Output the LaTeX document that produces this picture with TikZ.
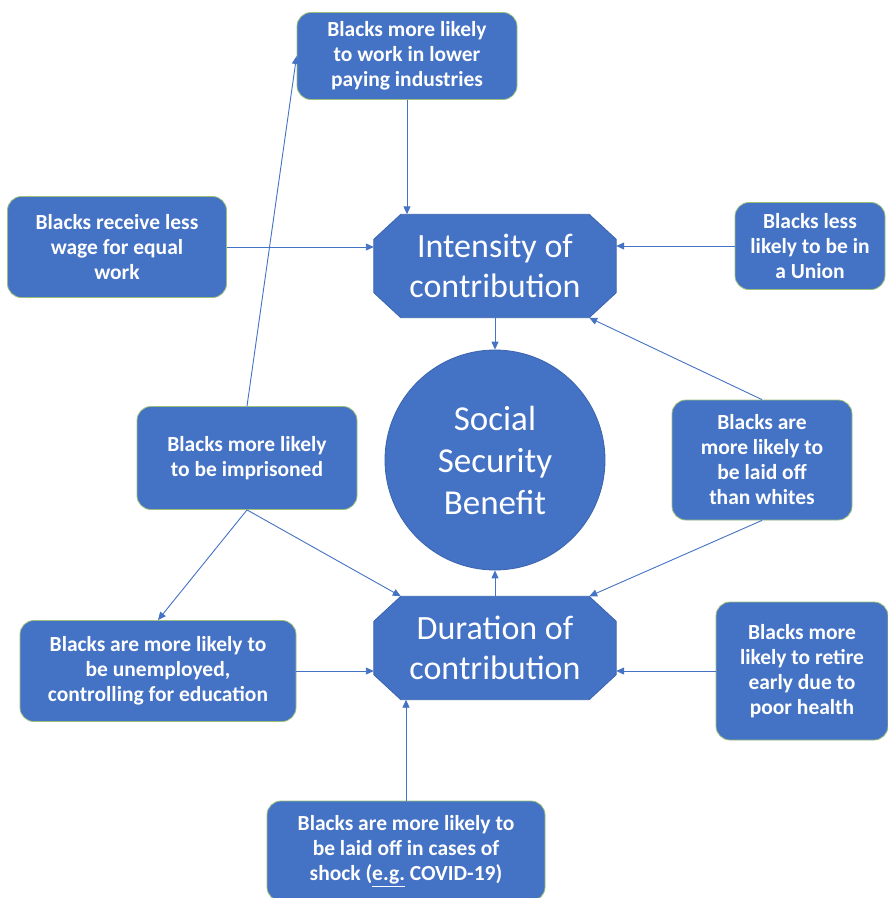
\documentclass[tikz,border=0pt]{standalone}
\usepackage{fontspec}
\setmainfont{Carlito}
\usetikzlibrary{arrows.meta, positioning}
\definecolor{boxblue}{HTML}{4472C4}
\definecolor{boxedge}{HTML}{9DBF7A}
\definecolor{hubedge}{HTML}{3B64AD}
\tikzset{
    box/.style={rectangle, rounded corners=14pt, fill=boxblue, draw=boxedge, line width=0.8pt,
        text=white, align=center, inner sep=0pt, font=\bfseries\fontsize{21.5}{25}\selectfont},
    hub/.style={rectangle, text=white, align=center, inner sep=0pt,
        minimum width=242pt, minimum height=103pt, font=\fontsize{34}{40}\selectfont},
    octa/.style={fill=boxblue, draw=hubedge, line width=0.8pt},
    arrow/.style={-{Triangle[length=8pt, width=7pt]}, boxblue, line width=0.9pt},
}
% chamfered outline round a hub node
\newcommand{\octagon}[1]{%
    \path[octa] ([xshift=27pt]#1.north west) -- ([xshift=-27pt]#1.north east)
        -- ([yshift=-25pt]#1.north east) -- ([yshift=25pt]#1.south east)
        -- ([xshift=-27pt]#1.south east) -- ([xshift=27pt]#1.south west)
        -- ([yshift=25pt]#1.south west) -- ([yshift=-25pt]#1.north west) -- cycle;}

\begin{document}
\begin{tikzpicture}[x=1pt, y=-1pt]
        \clip (0,0) rectangle (888,898);
        \fill[white] (0,0) rectangle (888,898);
        % outer boxes
        \node[box, minimum width=220pt, minimum height=87pt] (pay) at (407,56) {Blacks more likely\\to work in lower\\paying industries};
        \node[box, minimum width=219pt, minimum height=101pt] (wage) at (117,247) {Blacks receive less\\wage for equal\\work};
        \node[box, minimum width=150pt, minimum height=87pt] (union) at (810,246) {Blacks less\\likely to be in\\a Union};
        \node[box, minimum width=220pt, minimum height=103pt] (jail) at (247,458) {Blacks more likely\\to be imprisoned};
        \node[box, minimum width=180pt, minimum height=120pt] (whites) at (762,460) {Blacks are\\more likely to\\be laid off\\than whites};
        \node[box, minimum width=276pt, minimum height=101pt] (unemp) at (158,671) {Blacks are more likely to\\be unemployed,\\controlling for education};
        \node[box, minimum width=172pt, minimum height=138pt] (retire) at (802,671) {Blacks more\\likely to retire\\early due to\\poor health};
        \node[box, minimum width=278pt, minimum height=100pt] (shock) at (406,851) {Blacks are more likely to\\be laid off in cases of\\shock (\underline{e.g.} COVID-19)};
        % centre
        \node[hub] (inten) at (495,266) {};
        \octagon{inten}
        \node[hub] at (inten) {Intensity of\\contribution};
        \node[hub] (dur) at (495,648) {};
        \octagon{dur}
        \node[hub] at (dur) {Duration of\\contribution};
        \node[circle, fill=boxblue, draw=hubedge, line width=0.8pt, minimum size=220pt, inner sep=0pt,
            text=white, align=center, font=\fontsize{35}{42}\selectfont] (benefit) at (495,460) {Social\\Security\\Benefit};
        % links
        \draw[arrow] (pay.south) -- (pay.south |- inten.north);
        \draw[arrow] (wage.east) -- (wage.east -| inten.west);
        \draw[arrow] (union.west) -- (union.west -| inten.east);
        \draw[arrow] (inten.south) -- (benefit.north);
        \draw[arrow] (whites.north) -- ([xshift=-27pt]inten.south east);
        \draw[arrow] (whites.south) -- ([xshift=-27pt]dur.north east);
        \draw[arrow] (dur.north) -- (benefit.south);
        \draw[arrow] (jail.north) -- (pay.west);
        \draw[arrow] (jail.south) -- (unemp.north);
        \draw[arrow] (jail.south) -- ([xshift=27pt]dur.north west);
        \draw[arrow] (unemp.east) -- (unemp.east -| dur.west);
        \draw[arrow] (retire.west) -- (retire.west -| dur.east);
        \draw[arrow] (shock.north) -- (shock.north |- dur.south);
    \end{tikzpicture}
\end{document}
